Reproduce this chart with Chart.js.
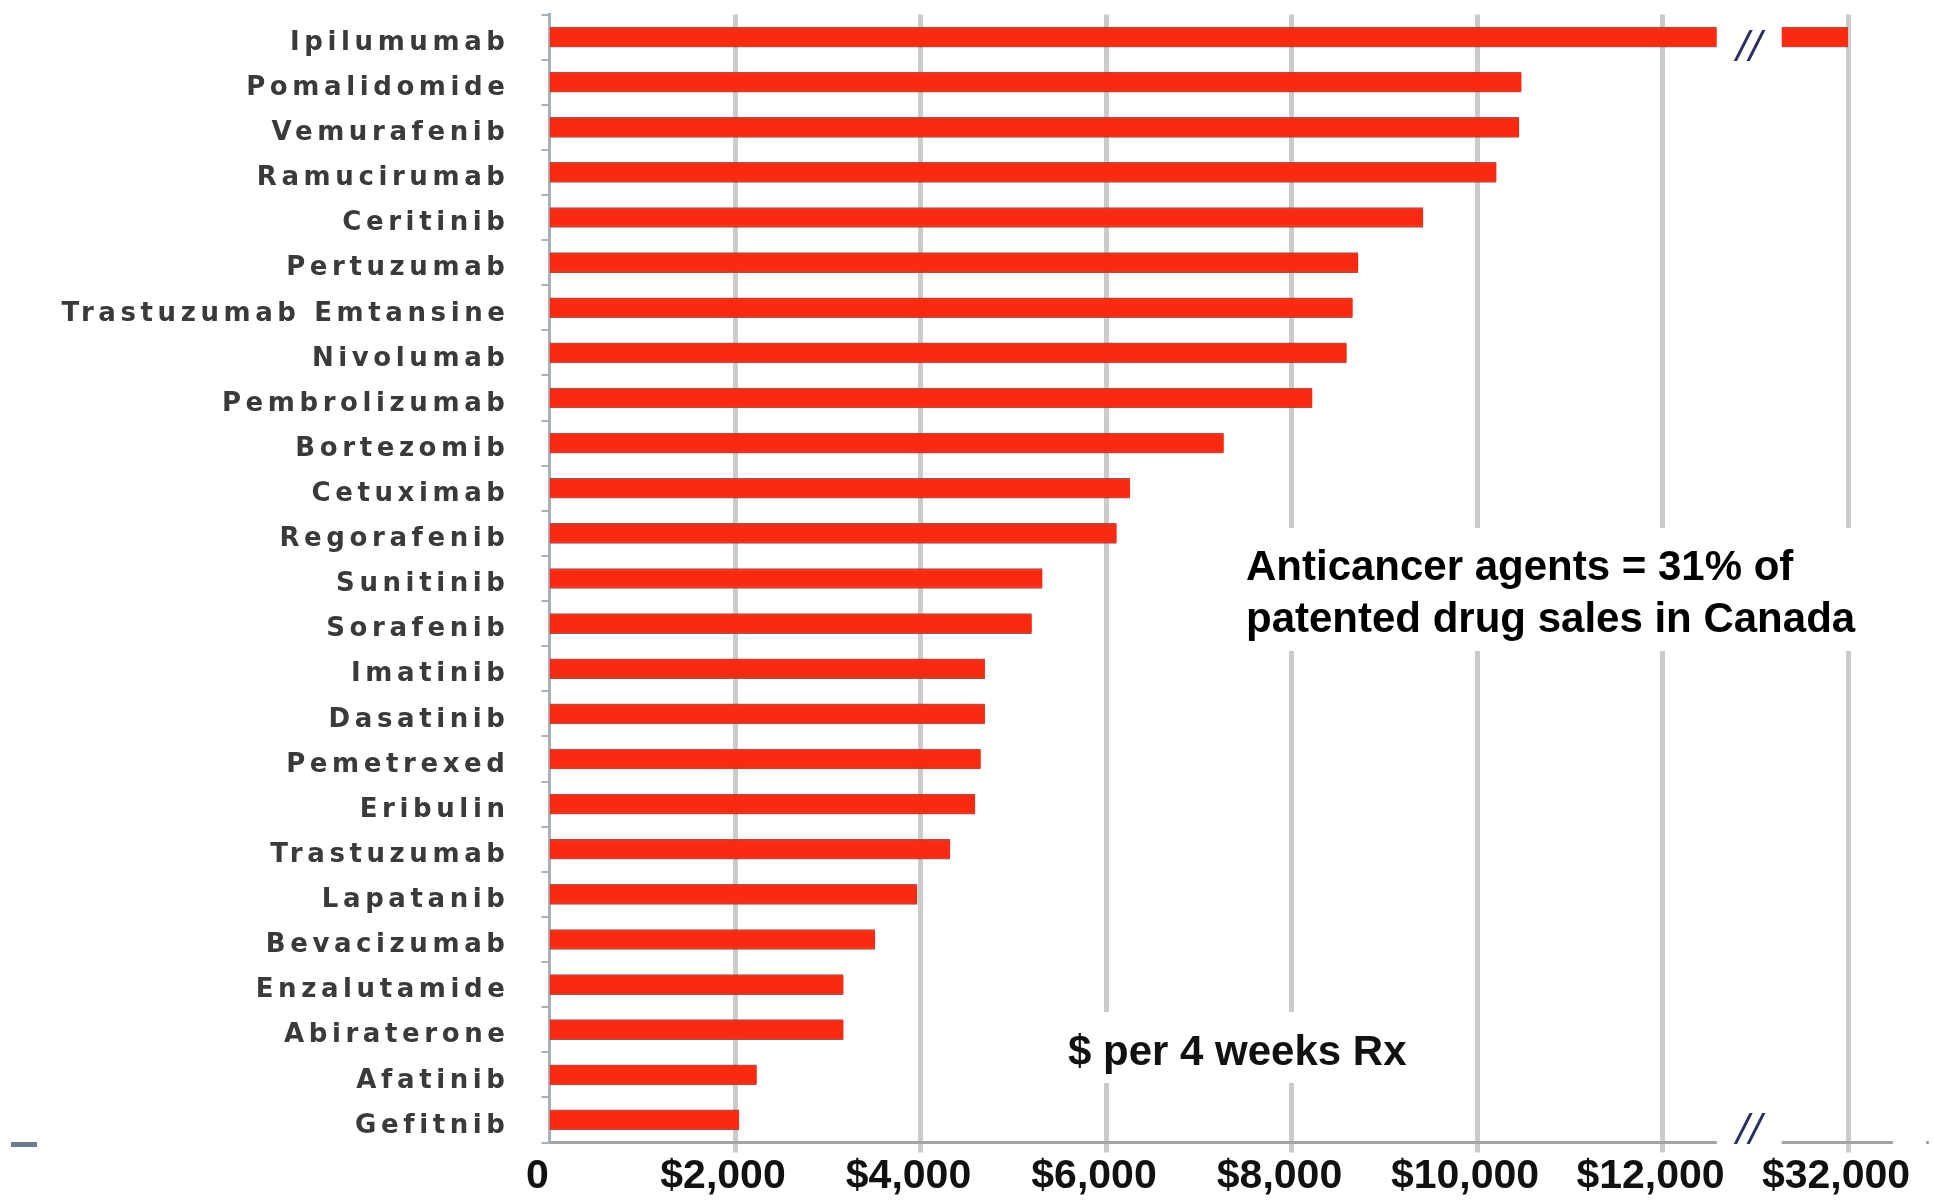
<!DOCTYPE html>
<html>
<head>
<meta charset="utf-8">
<script src="https://cdn.jsdelivr.net/npm/chart.js@4.4.1/dist/chart.umd.min.js"></script>
<style>
html,body{margin:0;padding:0;background:#fff;}
#wrap{width:1934px;height:1202px;position:relative;}
</style>
</head>
<body>
<div id="wrap"><canvas id="c" width="1934" height="1202"></canvas></div>
<script>
// ---- data ----
const drugs = [
  'Ipilumumab','Pomalidomide','Vemurafenib','Ramucirumab','Ceritinib','Pertuzumab',
  'Trastuzumab Emtansine','Nivolumab','Pembrolizumab','Bortezomib','Cetuximab','Regorafenib',
  'Sunitinib','Sorafenib','Imatinib','Dasatinib','Pemetrexed','Eribulin','Trastuzumab',
  'Lapatanib','Bevacizumab','Enzalutamide','Abiraterone','Afatinib','Gefitnib'
];
const costs = [
  32000, 10480, 10455, 10210, 9420, 8720,
  8660, 8595, 8225, 7270, 6260, 6115,
  5315, 5200, 4695, 4695, 4650, 4590, 4320,
  3965, 3510, 3170, 3170, 2235, 2045
];
const tickValues = [0, 2000, 4000, 6000, 8000, 10000, 12000, 32000];
const tickLabels = ['0', '$2,000', '$4,000', '$6,000', '$8,000', '$10,000', '$12,000', '$32,000'];
const annotationLines = ['Anticancer agents = 31% of', 'patented drug sales in Canada'];
const unitLabel = '$ per 4 weeks Rx';
const breakMark = '//';

// ---- broken axis: each tick value sits one step further along the axis ----
const STEP = 2000;
function toAxis(v) {
  for (let i = 0; i < tickValues.length - 1; i++) {
    const a = tickValues[i], b = tickValues[i + 1];
    if (v <= b) return (i + (v - a) / (b - a)) * STEP;
  }
  return (tickValues.length - 1) * STEP;
}
const AXIS_MAX = (tickValues.length - 1) * STEP;
const GAP_FROM = 12585, GAP_TO = 13285; // visual gap of the axis break (axis units)

const spacingPlugin = {
  id: 'labelSpacing',
  beforeDraw(chart) {
    const y = chart.scales.y;
    if (y && !y._lsWrapped) {
      const orig = y.drawLabels.bind(y);
      y.drawLabels = function (area) {
        const c = this.ctx;
        const prev = c.letterSpacing;
        c.letterSpacing = '4.6px';
        orig(area);
        c.letterSpacing = prev || '0px';
      };
      y._lsWrapped = true;
    }
  }
};

const decorPlugin = {
  id: 'decor',
  afterDraw(chart) {
    const { ctx, chartArea, scales: { x, y } } = chart;
    const g0 = x.getPixelForValue(GAP_FROM), g1 = x.getPixelForValue(GAP_TO);
    const rowY = y.getPixelForValue(0);
    ctx.save();
    // break gap in the first bar and in the axis line
    ctx.fillStyle = '#ffffff';
    ctx.fillRect(g0, rowY - 14, g1 - g0, 28);
    ctx.fillRect(g0, chartArea.bottom - 4, g1 - g0, 9);
    // axis line continuation on the right
    ctx.fillStyle = '#a3a3a3';
    ctx.fillRect(chartArea.right, chartArea.bottom - 1.5, 45, 3);
    ctx.fillRect(1926, chartArea.bottom - 1.5, 3, 3);
    // small dash at the far left
    ctx.fillStyle = '#6d7c8c';
    ctx.fillRect(11, chartArea.bottom - 0.5, 26, 5);
    // break marks
    ctx.fillStyle = '#2b2d63';
    ctx.font = 'italic 38px "DejaVu Sans", sans-serif';
    ctx.textAlign = 'center';
    ctx.textBaseline = 'middle';
    const gm = (g0 + g1) / 2;
    ctx.fillText(breakMark, gm, 47);
    ctx.fillText(breakMark, gm, 1130);
    // annotation boxes
    ctx.fillStyle = '#ffffff';
    ctx.fillRect(1236, 528, 648, 123);
    ctx.fillRect(1060, 1012, 360, 71);
    ctx.fillStyle = '#000000';
    ctx.textAlign = 'left';
    ctx.textBaseline = 'alphabetic';
    ctx.font = 'bold 42px "Liberation Sans", Arial, sans-serif';
    ctx.fillText(annotationLines[0], 1246, 580);
    ctx.fillText(annotationLines[1], 1246, 632);
    ctx.fillStyle = '#111111';
    ctx.fillText(unitLabel, 1068, 1065);
    ctx.restore();
  }
};

new Chart(document.getElementById('c').getContext('2d'), {
  type: 'bar',
  data: {
    labels: drugs,
    datasets: [{
      data: costs.map(toAxis),
      backgroundColor: '#fa2a10',
      borderColor: 'rgba(200,45,32,0.9)',
      borderWidth: { top: 2, bottom: 2, left: 0, right: 0 },
      borderSkipped: false,
      barThickness: 20
    }]
  },
  options: {
    indexAxis: 'y',
    responsive: false,
    animation: false,
    devicePixelRatio: 1,
    layout: { padding: { top: 14.5, right: 86, bottom: 0, left: 0 } },
    plugins: { legend: { display: false }, tooltip: { enabled: false } },
    scales: {
      x: {
        type: 'linear',
        min: 0,
        max: AXIS_MAX,
        afterFit(s) { s.height = 59.5; s.paddingLeft = 0; s.paddingRight = 0; },
        afterBuildTicks(s) { s.ticks = tickValues.map((v, i) => ({ value: i * STEP })); },
        ticks: {
          callback: (v, i) => tickLabels[i],
          font: { family: '"Liberation Sans", Arial, sans-serif', size: 41, weight: 'bold' },
          color: '#111111',
          padding: 0,
          labelOffset: -12,
          maxRotation: 0,
          autoSkip: false
        },
        grid: {
          color: '#cbcbcb',
          lineWidth: (c) => (c.tick && c.tick.value === 0 ? 0 : 5),
          drawTicks: true,
          tickLength: 10
        },
        border: { display: true, color: '#a3a3a3', width: 3 }
      },
      y: {
        afterFit(s) { s.width = 549.5; s.paddingTop = 0; s.paddingBottom = 0; },
        ticks: {
          font: { family: '"DejaVu Sans", sans-serif', size: 26, weight: 'bold' },
          color: '#3a3a3a',
          padding: 32,
          labelOffset: 6,
          autoSkip: false
        },
        grid: {
          display: true,
          drawOnChartArea: false,
          drawTicks: true,
          tickLength: 8,
          color: '#a8b0b8',
          lineWidth: 2
        },
        border: { display: true, color: '#a8b0b8', width: 3 }
      }
    }
  },
  plugins: [spacingPlugin, decorPlugin]
});
</script>
</body>
</html>
